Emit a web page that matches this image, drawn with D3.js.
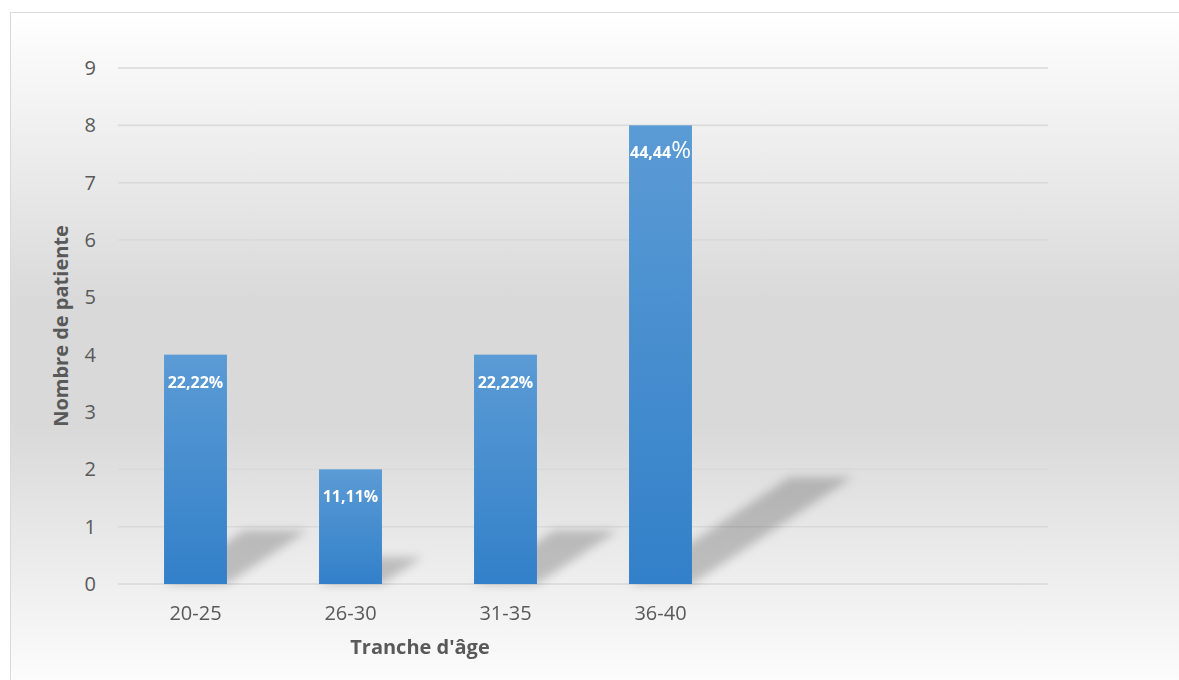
<!DOCTYPE html>
<html><head><meta charset="utf-8">
<script src="https://cdn.jsdelivr.net/npm/d3@7"></script>
<style>body{margin:0;background:#fff}svg{display:block}text{font-family:"Open Sans",sans-serif}</style>
</head><body><svg id="c" width="1179" height="680"></svg>
<script>
const categories = ["20-25","26-30","31-35","36-40"];
const slotCount = 6;
const values = [4,2,4,8];
const labels = ["22,22","11,11","22,22","44,44"];
const yTicks = [0,1,2,3,4,5,6,7,8,9];
const xTitle = "Tranche d'âge";
const yTitle = "Nombre de patiente";

const svg = d3.select("#c");
const defs = svg.append("defs");
const bg = defs.append("linearGradient").attr("id","bg").attr("x1",0).attr("y1",0).attr("x2",0).attr("y2",1);
[[0,"#ffffff"],[0.42,"#d9d9d9"],[0.6,"#d9d9d9"],[1,"#ffffff"]].forEach(s=>bg.append("stop").attr("offset",s[0]).attr("stop-color",s[1]));
const bar = defs.append("linearGradient").attr("id","bar").attr("x1",0).attr("y1",0).attr("x2",0).attr("y2",1);
[[0,"#5b9bd5"],[1,"#3280c9"]].forEach(s=>bar.append("stop").attr("offset",s[0]).attr("stop-color",s[1]));
defs.append("filter").attr("id","blur").attr("x","-30%").attr("y","-30%").attr("width","160%").attr("height","160%")
  .append("feGaussianBlur").attr("stdDeviation",5);

svg.append("rect").attr("x",10.5).attr("y",12.5).attr("width",1200).attr("height",690)
  .attr("fill","url(#bg)").attr("stroke","#d9d9d9");

const x = d3.scaleBand().domain(d3.range(slotCount)).range([118,1048]).paddingInner(0.594).paddingOuter(0.297);
const y = d3.scaleLinear().domain([0,9]).range([584,68]);

// gridlines
svg.append("g").selectAll("line").data(yTicks).join("line")
  .attr("x1",118).attr("x2",1048).attr("y1",d=>y(d)).attr("y2",d=>y(d))
  .attr("stroke","#d9d9d9").attr("stroke-width",1.5);

// y tick labels
svg.append("g").selectAll("text").data(yTicks).join("text")
  .attr("x",96).attr("y",d=>y(d)).attr("dy","0.35em").attr("text-anchor","end")
  .attr("font-size",20).attr("fill","#595959").text(d=>d);

// shadows
svg.append("g").attr("filter","url(#blur)").selectAll("polygon").data(values).join("polygon")
  .attr("points",(d,i)=>{
    const x0=x(i), x1=x(i)+x.bandwidth(), b=y(0), h=y(0)-y(d);
    const dx=0.35*h, dy=0.233*h;
    return [[x0,b],[x1,b],[x1+dx,b-dy],[x0+dx,b-dy]].map(p=>p.join(",")).join(" ");
  })
  .attr("fill","#000").attr("opacity",0.2);

// bars
svg.append("g").selectAll("rect").data(values).join("rect")
  .attr("x",(d,i)=>x(i)).attr("width",x.bandwidth())
  .attr("y",d=>y(d)).attr("height",d=>y(0)-y(d)).attr("fill","url(#bar)");

// data labels
const lab = svg.append("g").selectAll("text").data(values).join("text")
  .attr("x",(d,i)=>x(i)+x.bandwidth()/2).attr("y",d=>y(d)+33)
  .attr("text-anchor","middle").attr("font-size",16).attr("font-weight","bold").attr("fill","#fff");
lab.append("tspan").text((d,i)=>labels[i]);
lab.append("tspan").attr("font-size",(d,i)=>i===3?24:16).attr("font-weight",(d,i)=>i===3?"normal":"bold").text("%");

// x tick labels
svg.append("g").selectAll("text").data(categories).join("text")
  .attr("x",(d,i)=>x(i)+x.bandwidth()/2).attr("y",620).attr("text-anchor","middle")
  .attr("font-size",20).attr("fill","#595959").text(d=>d);

// titles
svg.append("text").attr("x",420).attr("y",654).attr("text-anchor","middle")
  .attr("font-size",20).attr("font-weight","bold").attr("fill","#595959").text(xTitle);
svg.append("text").attr("transform","translate(68,326) rotate(-90)").attr("text-anchor","middle")
  .attr("font-size",20).attr("font-weight","bold").attr("fill","#595959").text(yTitle);
</script></body></html>
